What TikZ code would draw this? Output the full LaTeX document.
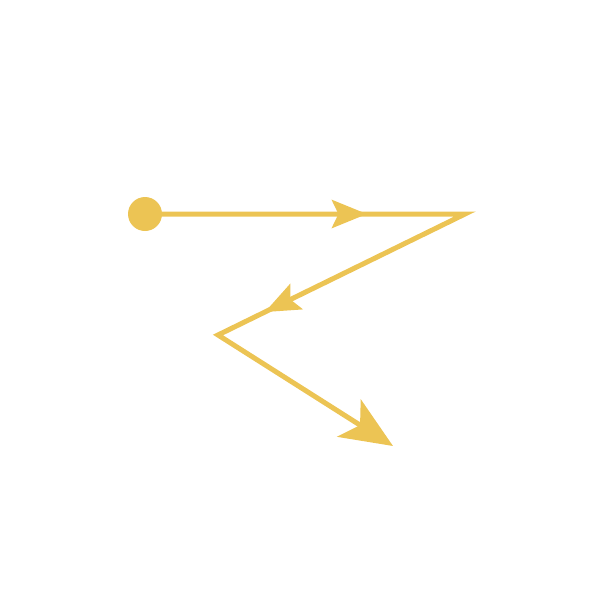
\documentclass[tikz,border=0pt]{standalone}
\usetikzlibrary{arrows.meta,decorations.markings}
\definecolor{mustard}{RGB}{236,196,84}

\begin{document}
\begin{tikzpicture}[x=0.02cm,y=-0.02cm,
  zigzag/.style={mustard,line width=0.1cm,
    -{Stealth[length=1.04cm,width=0.88cm,inset=0.26cm]}},
  midtips/.style={decoration={markings,
    mark=at position 4.44cm with {\arrow{Stealth[length=0.7cm,width=0.56cm,inset=0.13cm]}},
    mark=at position 10.86cm with {\arrow{Stealth[length=0.7cm,width=0.56cm,inset=0.13cm]}}},
    postaction={decorate}}]
% Canvas
\useasboundingbox (0,0) rectangle (600,600);
% Turning points
\coordinate (start) at (145,214);
\coordinate (turnA) at (465,214);
\coordinate (turnB) at (218,335);
\coordinate (stop) at (393,446);
% Zig-zag path
\draw[zigzag,midtips] (start) -- (turnA) -- (turnB) -- (stop);
% Start dot
\fill[mustard] (start) circle (0.34cm);
\end{tikzpicture}
\end{document}
